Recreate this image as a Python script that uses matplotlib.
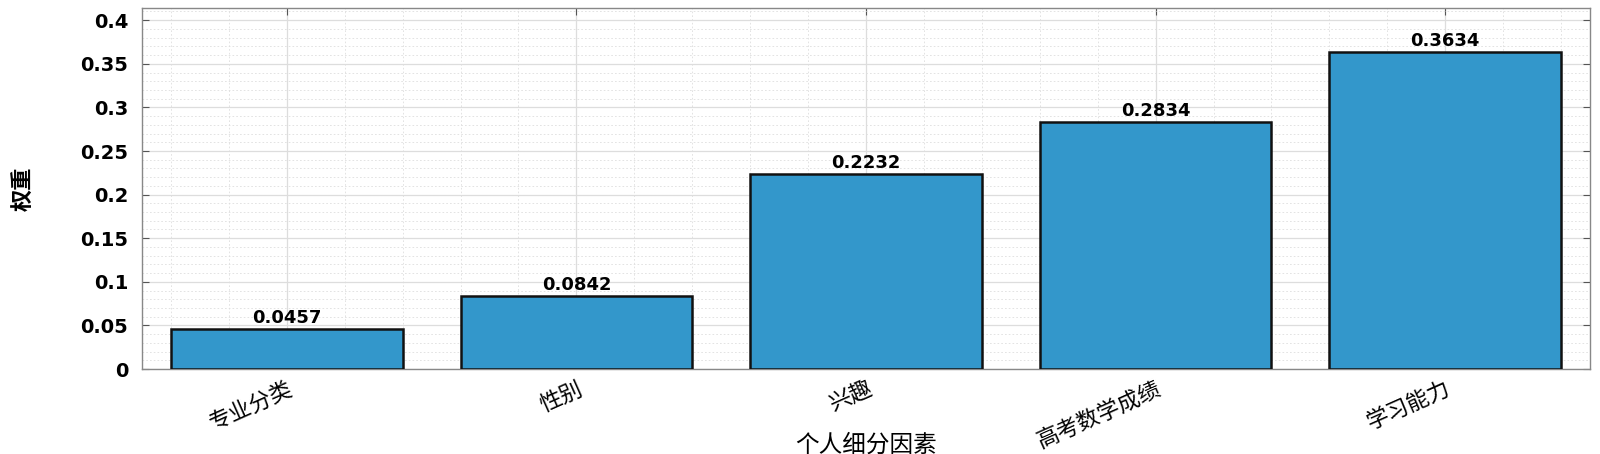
""" Bar chart of weights for individual sub-factors """

import numpy as np
import matplotlib.pyplot as plt
from matplotlib.ticker import MultipleLocator, FuncFormatter

# Data
factors = ["专业分类", "性别", "兴趣", "高考数学成绩", "学习能力"]
weights = [0.0457, 0.0842, 0.2232, 0.2834, 0.3634]

cjk = ["Noto Sans CJK SC", "DejaVu Sans"]
num_font = ["DejaVu Sans"]

fig = plt.figure(figsize=(16, 4.54), dpi=100)
ax = fig.add_axes([0.08875, 0.1872, 0.905, 0.7952])

x = np.arange(1, len(factors) + 1)
bars = ax.bar(x, weights, width=0.8, color="#3397cb", edgecolor="#111111",
              linewidth=1.8, zorder=3)

# Value labels above the bars
for b, w in zip(bars, weights):
  ax.annotate(f"{w:.4f}", (b.get_x() + b.get_width() / 2, b.get_height()),
              xytext=(0, 1.5), textcoords="offset points", ha="center",
              va="bottom", fontsize=13, fontweight="bold", family=num_font,
              zorder=4)

ax.set_xlim(0.5, 5.5)
ax.set_ylim(0, 0.414)

# MATLAB-like grid
ax.yaxis.set_major_locator(MultipleLocator(0.05))
ax.yaxis.set_minor_locator(MultipleLocator(0.01))
ax.xaxis.set_minor_locator(MultipleLocator(0.2))
ax.set_xticks(x)
ax.grid(which="major", color="#dddddd", linewidth=0.9, zorder=0)
ax.grid(which="minor", color="#dedede", linestyle=(0, (2, 2.5)), linewidth=0.6,
        zorder=0)
ax.set_axisbelow(True)

ax.yaxis.set_major_formatter(FuncFormatter(lambda v, p: f"{v:g}"))
ax.tick_params(which="major", direction="in", length=5, width=0.8,
               color="#555555", top=True, right=True)
ax.tick_params(which="minor", length=0)
ax.tick_params(axis="y", pad=10)
for lab in ax.get_yticklabels():
  lab.set_fontsize(14)
  lab.set_fontweight("bold")
  lab.set_family(num_font)

ax.set_xticklabels(factors, rotation=24, ha="right", rotation_mode="anchor",
                   fontsize=16, family=cjk)
ax.tick_params(axis="x", pad=6)
for lab in ax.get_xticklabels():
  lab.set_x(lab.get_position()[0] + 0.04)

for s in ax.spines.values():
  s.set_color("#888888")
  s.set_linewidth(1.0)

ax.set_ylabel("权重", fontsize=16, family=cjk, fontweight="bold")
ax.yaxis.set_label_coords(-0.074, 0.5)
ax.set_xlabel("个人细分因素", fontsize=17, family=cjk)
ax.xaxis.set_label_coords(0.5, -0.21)
ax.xaxis.label.set_va("center")

plt.savefig("out.png", dpi=100)
